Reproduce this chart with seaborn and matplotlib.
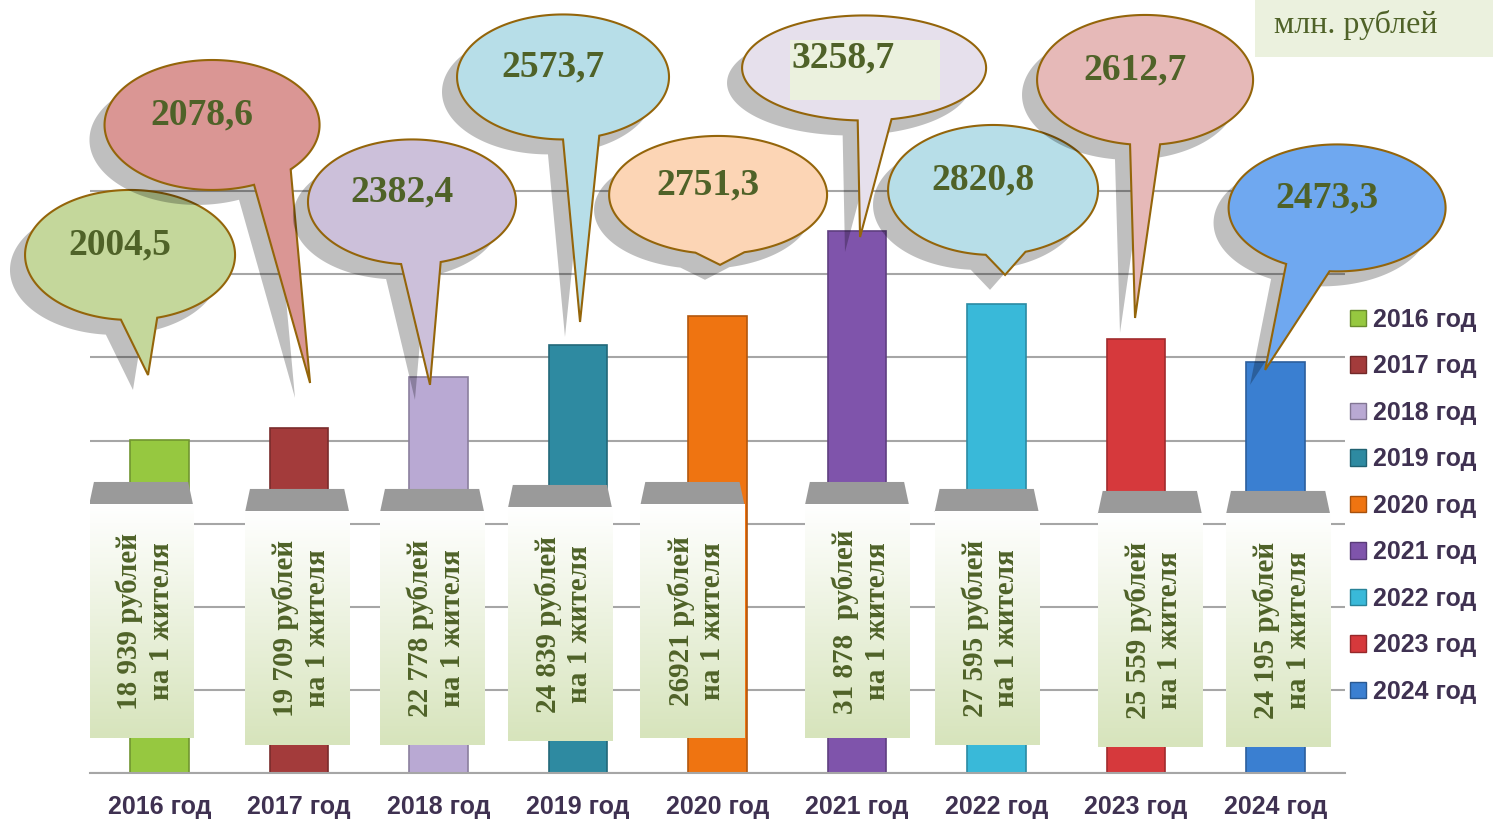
import numpy as np
import pandas as pd
import matplotlib
matplotlib.use("Agg")
import matplotlib.pyplot as plt
import matplotlib.colors as mcolors
from matplotlib.patches import Polygon, Rectangle, Patch
import seaborn as sns

# ---- data ----
years = ["2016 год", "2017 год", "2018 год", "2019 год", "2020 год",
         "2021 год", "2022 год", "2023 год", "2024 год"]
values = [2004.5, 2078.6, 2382.4, 2573.7, 2751.3, 3258.7, 2820.8, 2612.7, 2473.3]
value_labels = ["2004,5", "2078,6", "2382,4", "2573,7", "2751,3",
                "3258,7", "2820,8", "2612,7", "2473,3"]
per_capita = ["18 939 рублей\nна 1 жителя", "19 709 рублей\nна 1 жителя",
              "22 778 рублей\nна 1 жителя", "24 839 рублей\nна 1 жителя",
              "26921 рублей\nна 1 жителя", "31 878  рублей\nна 1 жителя",
              "27 595 рублей\nна 1 жителя", "25 559 рублей\nна 1 жителя",
              "24 195 рублей\nна 1 жителя"]
unit_label = "млн. рублей"

# ---- styles ----
bar_colors = ["#96c840", "#a33b3b", "#b9a9d3", "#2e8aa1", "#ef7411",
              "#7f54ab", "#39b9d9", "#d6393c", "#3a7fd1"]
bubble_colors = ["#c4d79b", "#da9694", "#ccc0da", "#b7dee8", "#fcd5b5",
                 "#e6e0ec", "#b7dee8", "#e6b9b8", "#6fa8f0"]
bubble_edge = "#94650a"
serif = "Liberation Serif"
sans = "Liberation Sans"
olive = "#4f6228"
label_dark = "#3f3151"

# bubble layout (x relative to bar index, y in data units)
bub_dx = [-0.213, -0.625, -0.191, -0.108, 0.004, 0.051, -0.024, 0.066, 0.443]
bub_y = [3117, 3899, 3436, 4188, 3478, 4242, 3508, 4170, 3400]
bub_w = [1.506, 1.542, 1.492, 1.52, 1.563, 1.75, 1.506, 1.549, 1.556]
bub_h = [782, 782, 752, 752, 710, 632, 782, 782, 764]
tip_dx = [-0.084, 0.078, -0.062, 0.014, 0.018, 0.022, 0.062, -0.006, -0.073]
tip_dy = [390, 268, -47, 140, 306, -34, 176, 125, -48]
tail_ang = [-85, -55, -85, -80, -89, -85, -83, -90, -106]
tail_half = [10, 12, 11, 10, 13, 8, 11, 8, 12]
box_dx = [-0.134, -0.015, -0.047, -0.13, -0.18, 0.0, -0.07, 0.1, 0.02]
box_top = [1751, 1709, 1709, 1733, 1751, 1751, 1709, 1697, 1697]

sns.set_style("white")
plt.rcParams["font.family"] = [sans, "DejaVu Sans"]

fig = plt.figure(figsize=(14.93, 8.21), dpi=100)
ax = fig.add_axes([0.0603, 0.0585, 0.8406, 0.9415])

df = pd.DataFrame({"year": years, "value": values})
sns.barplot(data=df, x="year", y="value", hue="year", palette=bar_colors,
            width=0.42, saturation=1, legend=False, ax=ax, zorder=2)


def darker(c, f=0.7):
    r, g, b = mcolors.to_rgb(c)
    return (r * f, g * f, b * f)


for p, c in zip(ax.patches, bar_colors):
    p.set_edgecolor(darker(c, 0.75))
    p.set_linewidth(1.2)

ax.set_xlim(-0.5, len(years) - 0.5)
ax.set_ylim(0, 4651)
ax.set_yticks(np.arange(0, 3501, 500))
ax.set_yticklabels([])
ax.tick_params(axis="y", length=0)
ax.yaxis.grid(True, color="#a6a6a6", linewidth=1.5)
ax.set_axisbelow(True)
ax.set_xlabel("")
ax.set_ylabel("")
for s in ["left", "right", "top"]:
    ax.spines[s].set_visible(False)
ax.spines["bottom"].set_color("#a6a6a6")
ax.spines["bottom"].set_linewidth(1.5)
ax.set_xticks(np.arange(-0.5, len(years)), minor=True)
ax.tick_params(axis="x", which="minor", length=8, width=1.5, color="#a6a6a6")
ax.tick_params(axis="x", which="major", length=0, pad=16)
for t in ax.get_xticklabels():
    t.set_fontweight("bold")
    t.set_fontsize(18)
    t.set_color(label_dark)

# ---- per-capita boxes ----
grad = np.linspace(0, 1, 100).reshape(-1, 1)
green_cmap = mcolors.LinearSegmentedColormap.from_list("g", ["#d7e4bc", "#ffffff"])
bw = 0.746
for i, txt in enumerate(per_capita):
    cx = i + box_dx[i]
    top = box_top[i]
    trap_h = 138
    box_h = 1402
    ax.add_patch(Polygon([(cx - bw / 2 + 0.035, top), (cx + bw / 2 - 0.035, top),
                          (cx + bw / 2, top - trap_h), (cx - bw / 2, top - trap_h)],
                         closed=True, facecolor="#9a9a9a", edgecolor="none", zorder=4))
    ax.imshow(grad, cmap=green_cmap, aspect="auto", origin="lower",
              extent=(cx - bw / 2, cx + bw / 2, top - trap_h - box_h, top - trap_h),
              zorder=4)
    ax.text(cx + 0.03, top - trap_h - box_h / 2, txt, rotation=90, ha="center",
            va="center", multialignment="center", fontsize=21, fontweight="bold",
            family=serif, color=olive, linespacing=1.2, zorder=5)

# ---- speech bubbles ----
t = np.linspace(0, 1, 200)
for i in range(len(years)):
    cx = i + bub_dx[i]
    cy = bub_y[i]
    a = bub_w[i] / 2
    b = bub_h[i] / 2
    t0 = np.radians(tail_ang[i])
    dt = np.radians(tail_half[i])
    ang = t0 + dt + t * (2 * np.pi - 2 * dt)
    pts = np.column_stack([cx + a * np.cos(ang), cy + b * np.sin(ang)])
    tip = np.array([[i + tip_dx[i], values[i] + tip_dy[i]]])
    pts = np.vstack([pts, tip])
    shadow = pts + np.array([-0.108, -90])
    ax.add_patch(Polygon(shadow, closed=True, facecolor="black", alpha=0.25,
                         edgecolor="none", zorder=6 + i * 0.1, clip_on=False))
    ax.add_patch(Polygon(pts, closed=True, facecolor=bubble_colors[i],
                         edgecolor=bubble_edge, linewidth=1.5,
                         zorder=6.05 + i * 0.1, clip_on=False))
    if i == 5:
        ax.add_patch(Rectangle((cx - 0.53, cy - 193), 1.075, 361,
                               facecolor="#ebf1de", edgecolor="none",
                               zorder=6.07 + i * 0.1))
    ax.text(cx - 0.07 - (0.08 if i == 5 else 0), cy + 60, value_labels[i],
            ha="center", va="center", fontsize=27, fontweight="bold",
            family=serif, color=olive, zorder=6.08 + i * 0.1)

# ---- legend ----
handles = [Patch(facecolor=c, edgecolor=darker(c, 0.7), label=y)
           for c, y in zip(bar_colors, years)]
leg = fig.legend(handles=handles, loc="center left", bbox_to_anchor=(0.896, 0.384),
                 frameon=False, handlelength=0.62, handleheight=0.62,
                 handletextpad=0.3, labelspacing=0.9, borderpad=0,
                 prop={"family": sans, "weight": "bold", "size": 18})
for txt in leg.get_texts():
    txt.set_color(label_dark)

# ---- unit box ----
fig.patches.append(Rectangle((1255 / 1493, 1 - 57 / 821), 238 / 1493, 57 / 821,
                             transform=fig.transFigure, facecolor="#ebf1de",
                             edgecolor="none", zorder=0))
fig.text(1356 / 1493, 1 - 25 / 821, unit_label, ha="center", va="center",
         fontsize=23, family=serif, color=olive)

fig.savefig("out.png", dpi=100)
